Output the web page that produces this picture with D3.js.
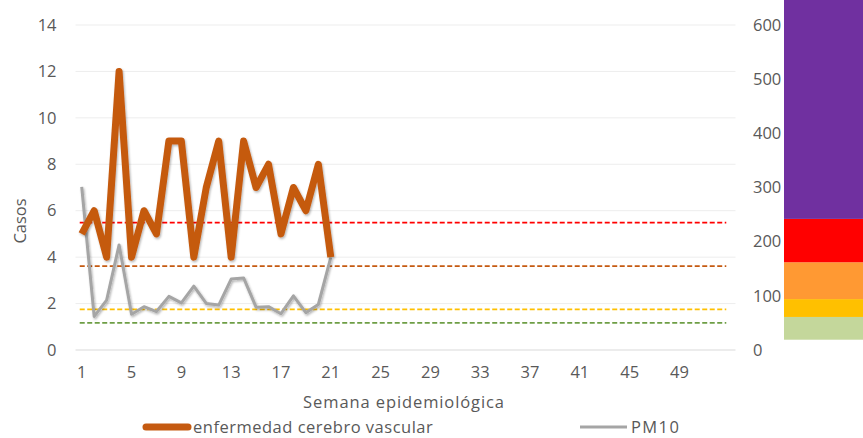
<!DOCTYPE html>
<html>
<head>
<meta charset="utf-8">
<script src="https://cdn.jsdelivr.net/npm/d3@7"></script>
<style>
  html, body { margin: 0; padding: 0; background: #fff; }
  svg { display: block; font-family: "Open Sans", "Noto Sans", sans-serif; }
</style>
</head>
<body>
<svg id="chart" width="863" height="438"></svg>
<script>
// Weekly cases of cerebrovascular disease (left axis)
const weeks = d3.range(1, 54);
const caseWeeks = d3.range(1, 22);
const cases = [5, 6, 4, 12, 4, 6, 5, 9, 9, 4, 7, 9, 4, 9, 7, 8, 5, 7, 6, 8, 4];
// Weekly PM10 concentration (right axis)
const pm10 = [301, 62, 92, 194, 66, 80, 71, 99, 87, 118, 86, 83, 131, 133, 79, 80, 67, 100, 69, 84, 171];
// Reference levels for PM10 (right axis)
const thresholdValues = [235, 155, 75, 50];
const thresholdColors = ["#FF0000", "#C55A11", "#FFC000", "#6E9E45"];
// Air quality bands (right axis), stacked from bottom
const bandLow = [19, 61, 94, 162, 242];
const bandHigh = [61, 94, 162, 242, 650];
const bandColors = ["#C4D79B", "#FFC000", "#FF9933", "#FF0000", "#7030A0"];
// Axis ticks
const xTickLabels = [1, 5, 9, 13, 17, 21, 25, 29, 33, 37, 41, 45, 49];
const leftTicks = [0, 2, 4, 6, 8, 10, 12, 14];
const rightTicks = [0, 100, 200, 300, 400, 500, 600];

const svg = d3.select("#chart");
const plot = { left: 75.5, right: 735.5, top: 25, bottom: 350 };
const textColor = "#595959";
const fs = 16.5;

const x = d3.scaleBand().domain(weeks).range([plot.left, plot.right]).padding(0);
const cx = w => x(w) + x.bandwidth() / 2;
const yL = d3.scaleLinear().domain([0, 14]).range([plot.bottom, plot.top]);
const yR = d3.scaleLinear().domain([0, 600]).range([plot.bottom, plot.top]);

// soft shadow for series lines
const defs = svg.append("defs");
const f = defs.append("filter").attr("id", "shadow").attr("x", "-10%").attr("y", "-10%").attr("width", "120%").attr("height", "120%");
f.append("feDropShadow").attr("dx", 1).attr("dy", 1.5).attr("stdDeviation", 1.2)
  .attr("flood-color", "#000").attr("flood-opacity", 0.3);

// gridlines
svg.append("g").selectAll("line").data(leftTicks.filter(t => t > 0)).join("line")
  .attr("x1", plot.left).attr("x2", plot.right)
  .attr("y1", d => yL(d)).attr("y2", d => yL(d))
  .attr("stroke", "#EDEDED").attr("stroke-width", 1);

// category axis line
svg.append("line").attr("x1", plot.left).attr("x2", plot.right)
  .attr("y1", plot.bottom).attr("y2", plot.bottom)
  .attr("stroke", "#D9D9D9").attr("stroke-width", 1.2);

// air quality bands
svg.append("g").selectAll("rect").data(bandLow).join("rect")
  .attr("x", 784).attr("width", 90)
  .attr("y", (d, i) => yR(bandHigh[i]))
  .attr("height", (d, i) => yR(bandLow[i]) - yR(bandHigh[i]))
  .attr("fill", (d, i) => bandColors[i]);

// left axis
const gL = svg.append("g").attr("transform", `translate(${plot.left - 19},0)`)
  .call(d3.axisLeft(yL).tickValues(leftTicks).tickSize(0).tickPadding(0));
gL.select(".domain").remove();
gL.selectAll("text").attr("fill", textColor).attr("font-size", fs).attr("font-family", "Open Sans");

// right axis
const gR = svg.append("g").attr("transform", `translate(753,0)`)
  .call(d3.axisRight(yR).tickValues(rightTicks).tickSize(0).tickPadding(0));
gR.select(".domain").remove();
gR.selectAll("text").attr("fill", textColor).attr("font-size", fs).attr("font-family", "Open Sans");

// bottom axis
const gX = svg.append("g").attr("transform", `translate(0,${plot.bottom + 13})`)
  .call(d3.axisBottom(x).tickValues(xTickLabels).tickSize(0).tickPadding(3));
gX.select(".domain").remove();
gX.selectAll("text").attr("fill", textColor).attr("font-size", fs).attr("font-family", "Open Sans");

// axis titles
svg.append("text").attr("transform", "translate(26,221) rotate(-90)")
  .attr("text-anchor", "middle").attr("fill", textColor).attr("font-size", fs)
  .text("Casos");
svg.append("text").attr("x", 404).attr("y", 408)
  .attr("text-anchor", "middle").attr("fill", textColor).attr("font-size", fs)
  .attr("letter-spacing", 0.9)
  .text("Semana epidemiológica");

// reference levels
svg.append("g").selectAll("line").data(thresholdValues).join("line")
  .attr("x1", cx(weeks[0]) - 2).attr("x2", cx(weeks[weeks.length - 1]) - 3)
  .attr("y1", d => yR(d)).attr("y2", d => yR(d))
  .attr("stroke", (d, i) => thresholdColors[i]).attr("stroke-width", 1.7)
  .attr("stroke-dasharray", "5,2.5");

// PM10 line
svg.append("path").datum(pm10)
  .attr("d", d3.line().x((d, i) => cx(caseWeeks[i])).y(d => yR(d)))
  .attr("fill", "none").attr("stroke", "#A5A5A5").attr("stroke-width", 3)
  .attr("stroke-linejoin", "round").attr("filter", "url(#shadow)");

// cases line
svg.append("path").datum(cases)
  .attr("d", d3.line().x((d, i) => cx(caseWeeks[i])).y(d => yL(d)))
  .attr("fill", "none").attr("stroke", "#C55A11").attr("stroke-width", 7)
  .attr("stroke-linejoin", "round").attr("filter", "url(#shadow)");

// legend
const legend = svg.append("g");
legend.append("line").attr("x1", 146).attr("x2", 188).attr("y1", 427).attr("y2", 427)
  .attr("stroke", "#C55A11").attr("stroke-width", 7).attr("stroke-linecap", "round");
legend.append("text").attr("x", 193).attr("y", 433).attr("fill", textColor)
  .attr("font-size", fs).attr("letter-spacing", 0.5).text("enfermedad cerebro vascular");
legend.append("line").attr("x1", 580).attr("x2", 627).attr("y1", 427).attr("y2", 427)
  .attr("stroke", "#A5A5A5").attr("stroke-width", 3);
legend.append("text").attr("x", 631).attr("y", 433).attr("fill", textColor)
  .attr("font-size", fs).attr("letter-spacing", 1.4).text("PM10");
</script>
</body>
</html>
